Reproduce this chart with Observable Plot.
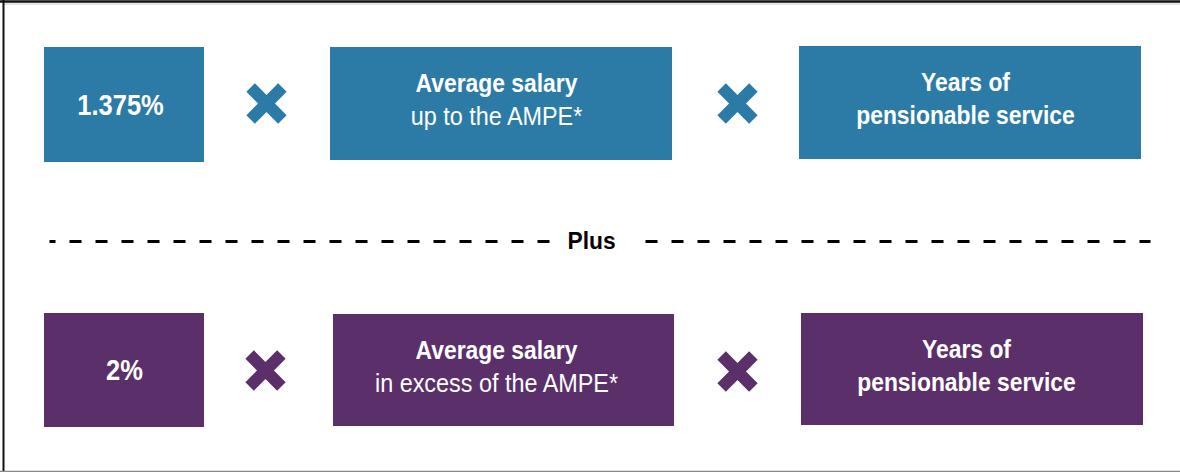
<!DOCTYPE html>
<html><head><meta charset="utf-8">
<script src="https://cdn.jsdelivr.net/npm/d3@7"></script>
<script src="https://cdn.jsdelivr.net/npm/@observablehq/plot@0.6"></script>
<style>html,body{margin:0;padding:0;background:#fff;} #chart svg{display:block;}</style>
</head><body><div id="chart"></div>
<script>
// ---------------- data ----------------
const rows = ["up to the AMPE", "in excess of the AMPE"];
const accrualRates = ["1.375%", "2%"];
const salaryHeadings = ["Average salary", "Average salary"];
const salaryQualifiers = ["up to the AMPE*", "in excess of the AMPE*"];
const serviceLines = ["Years of", "pensionable service"];
const separatorLabel = "Plus";
const rowColors = ["#2b7ba6", "#5a2f6a"];

// ---------------- layout (pixels) ----------------
const W = 1180, H = 472;
const boxLayout = [
  [{x1: 44, x2: 204, y1: 47, y2: 162}, {x1: 330, x2: 672, y1: 47, y2: 160}, {x1: 799, x2: 1141, y1: 46, y2: 159}],
  [{x1: 44, x2: 204, y1: 313, y2: 427}, {x1: 333, x2: 674, y1: 314, y2: 426}, {x1: 801, x2: 1143, y1: 313, y2: 425}]
];
const textCenters = [[120, 496, 965], [124, 496, 966]]; // horizontal centre of the labels in each box
const crossLayout = [[{x: 266, y: 103}, {x: 737, y: 103}], [{x: 265, y: 370}, {x: 737, y: 371}]];
const lineOffsets = [-20, 13]; // two-line text, from box centre
const sepY = 241, sepLeft = [549, 49], sepRight = [645, 1150], sepLabelX = 591;

const font = "'Liberation Sans', Arial, sans-serif";

// ---------------- build records ----------------
const boxes = rows.flatMap((r, i) => boxLayout[i].map((b, j) => ({row: i, col: j, ...b})));
const crosses = rows.flatMap((r, i) => crossLayout[i].map(c => ({row: i, ...c})));
const cy = b => (b.y1 + b.y2) / 2;

const bigText = rows.map((r, i) => ({row: i, text: accrualRates[i], x: textCenters[i][0], y: cy(boxLayout[i][0])}));
const boldLines = [], regularLines = [];
rows.forEach((r, i) => {
  const b1 = boxLayout[i][1], b2 = boxLayout[i][2];
  boldLines.push({text: salaryHeadings[i], x: textCenters[i][1], y: cy(b1) + lineOffsets[0]});
  regularLines.push({text: salaryQualifiers[i], x: textCenters[i][1], y: cy(b1) + lineOffsets[1]});
  serviceLines.forEach((t, k) => boldLines.push({text: t, x: textCenters[i][2], y: cy(b2) + lineOffsets[k]}));
});
const sepSegments = [{x1: sepLeft[0], x2: sepLeft[1]}, {x1: sepRight[0], x2: sepRight[1]}];

const chart = Plot.plot({
  width: W, height: H,
  margin: 0,
  x: {type: "linear", domain: [0, W], range: [0, W], axis: null},
  y: {type: "linear", domain: [0, H], range: [0, H], axis: null},
  color: {type: "ordinal", domain: [0, 1], range: rowColors},
  style: {fontFamily: font, background: "#fff"},
  marks: [
    // frame
    Plot.ruleY([1], {x1: 0, x2: W, stroke: "#111", strokeWidth: 2.5}),
    Plot.ruleY([3.5], {x1: 4, x2: W, stroke: "#ccc", strokeWidth: 1}),
    Plot.ruleX([3], {y1: 0, y2: H, stroke: "#111", strokeWidth: 2}),
    Plot.ruleY([471], {x1: 0, x2: W, stroke: "#888", strokeWidth: 1.5}),
    // boxes
    Plot.rect(boxes, {x1: "x1", x2: "x2", y1: "y1", y2: "y2", fill: "row"}),
    // multiplication signs
    Plot.dot(crosses, {x: "x", y: "y", symbol: "times", r: 14.5, stroke: "row", strokeWidth: 12, strokeLinecap: "butt"}),
    // separator
    Plot.link(sepSegments, {x1: "x1", x2: "x2", y1: () => sepY, y2: () => sepY, stroke: "#000", strokeWidth: 3, strokeDasharray: "12,14"}),
    Plot.text([separatorLabel], {x: () => sepLabelX, y: () => sepY, text: d => d, fontSize: 24, fontWeight: "bold", fill: "#000"}),
    // box texts
    Plot.text(bigText, {x: "x", y: "y", text: "text", fontSize: 30, fontWeight: "bold", fill: "#fff"}),
    Plot.text(boldLines, {x: "x", y: "y", text: "text", fontSize: 26, fontWeight: "bold", fill: "#fff"}),
    Plot.text(regularLines, {x: "x", y: "y", text: "text", fontSize: 26, fill: "#fff"})
  ]
});

// condense the text horizontally, around each label's anchor point
chart.querySelectorAll('g[aria-label="text"]').forEach(g => {
  const fs = +g.getAttribute("font-size");
  const fw = g.getAttribute("font-weight");
  const s = fs === 30 ? 0.85 : fs === 24 ? 0.95 : fw === "bold" ? 0.88 : 0.9;
  g.querySelectorAll("text").forEach(t => {
    const tr = t.getAttribute("transform");
    if (tr && tr.includes("translate")) {
      t.setAttribute("transform", tr + ` scale(${s},1)`);
    } else {
      const x = +(t.getAttribute("x") || 0), y = +(t.getAttribute("y") || 0);
      t.setAttribute("transform", `translate(${x},${y}) scale(${s},1) translate(${-x},${-y})`);
    }
  });
});
document.getElementById("chart").append(chart);
</script>
</body></html>
